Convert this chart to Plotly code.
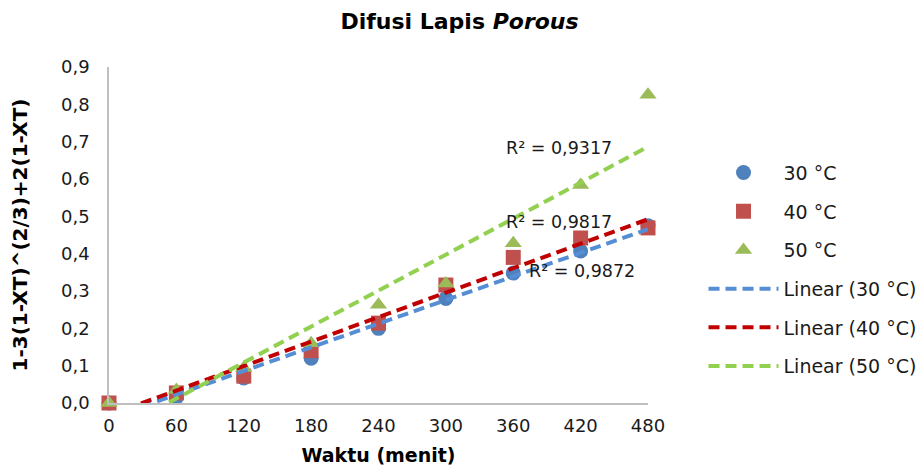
import numpy as np
import plotly.graph_objects as go

# Waktu (menit)
waktu = [0, 60, 120, 180, 240, 300, 360, 420, 480]

# 1-3(1-XT)^(2/3)+2(1-XT) for each temperature
y_30 = [0.0, 0.015, 0.067, 0.120, 0.200, 0.280, 0.348, 0.407, 0.475]
y_40 = [0.0, 0.027, 0.072, 0.140, 0.214, 0.316, 0.390, 0.442, 0.469]
y_50 = [0.0, 0.035, 0.094, 0.160, 0.263, 0.320, 0.428, 0.584, 0.826]

series_names = ["30 °C", "40 °C", "50 °C"]
r2_labels = ["R² = 0,9872", "R² = 0,9817", "R² = 0,9317"]
r2_pos_x = [421, 401, 401]
r2_pos_y = [0.354, 0.485, 0.684]

x_ticks = [0, 60, 120, 180, 240, 300, 360, 420, 480]
y_ticks = [0.0, 0.1, 0.2, 0.3, 0.4, 0.5, 0.6, 0.7, 0.8, 0.9]

marker_colors = ["#4f81bd", "#c0504d", "#9bbb59"]
marker_symbols = ["circle", "square", "triangle-up"]
trend_colors = ["#558ed5", "#c00000", "#92d050"]

FONT = "DejaVu Sans"
TXT = "#1a1a1a"

fig = go.Figure()
all_y = [y_30, y_40, y_50]

for i, ys in enumerate(all_y):
    fig.add_trace(go.Scatter(
        x=waktu, y=ys, mode="markers", name=series_names[i],
        legendgroup=f"g{i}",
        marker=dict(symbol=marker_symbols[i], color=marker_colors[i], size=15),
        cliponaxis=False,
    ))

# Linear trendlines fitted over the full time span
for i, ys in enumerate(all_y):
    slope, intercept = np.polyfit(waktu, ys, 1)
    xs = np.array([waktu[0], waktu[-1]], dtype=float)
    fig.add_trace(go.Scatter(
        x=xs, y=slope * xs + intercept, mode="lines",
        name=f"Linear ({series_names[i]})",
        legendgroup=f"t{i}",
        line=dict(color=trend_colors[i], width=4, dash="11px,6px"),
    ))

for i in range(3):
    fig.add_annotation(x=r2_pos_x[i], y=r2_pos_y[i], text=r2_labels[i],
                       showarrow=False, xref="x", yref="y",
                       font=dict(family=FONT, size=17.5, color=TXT))

fig.update_layout(
    width=919, height=471,
    margin=dict(l=109, r=271, t=67, b=68, autoexpand=False),
    paper_bgcolor="white", plot_bgcolor="white",
    separators=", ",
    font=dict(family=FONT, size=18, color=TXT),
    title=dict(text="<b>Difusi Lapis <i>Porous</i></b>", x=0.5, xref="container",
               xanchor="center", y=0.955, yanchor="middle",
               font=dict(family=FONT, size=22, color="#000000")),
    legend=dict(x=1.103, xanchor="left", y=0.742, yanchor="top",
                font=dict(family=FONT, size=19, color=TXT),
                tracegroupgap=11, itemwidth=70, bgcolor="rgba(0,0,0,0)"),
    showlegend=True,
)

fig.update_xaxes(
    range=[0, 480], tickvals=x_ticks, ticktext=[str(v) for v in x_ticks],
    showgrid=False, zeroline=False, showline=True, linecolor="#bfbfbf",
    linewidth=1.5, ticks="", ticklabelstandoff=6, automargin=False,
    title=dict(text="<b>Waktu (menit)</b>", standoff=13,
               font=dict(family=FONT, size=19, color="#000000")),
    tickfont=dict(family=FONT, size=18, color=TXT),
)
fig.update_yaxes(
    range=[0, 0.9], tickvals=y_ticks, tickformat=".1f",
    showgrid=False, zeroline=False, showline=True, linecolor="#bfbfbf",
    linewidth=1.5, ticks="", ticklabelstandoff=14, automargin=False,
    title=dict(text="<b>1-3(1-XT)^(2/3)+2(1-XT)</b>", standoff=28,
               font=dict(family=FONT, size=20, color="#000000")),
    tickfont=dict(family=FONT, size=18, color=TXT),
)

fig.write_html("out.html")
